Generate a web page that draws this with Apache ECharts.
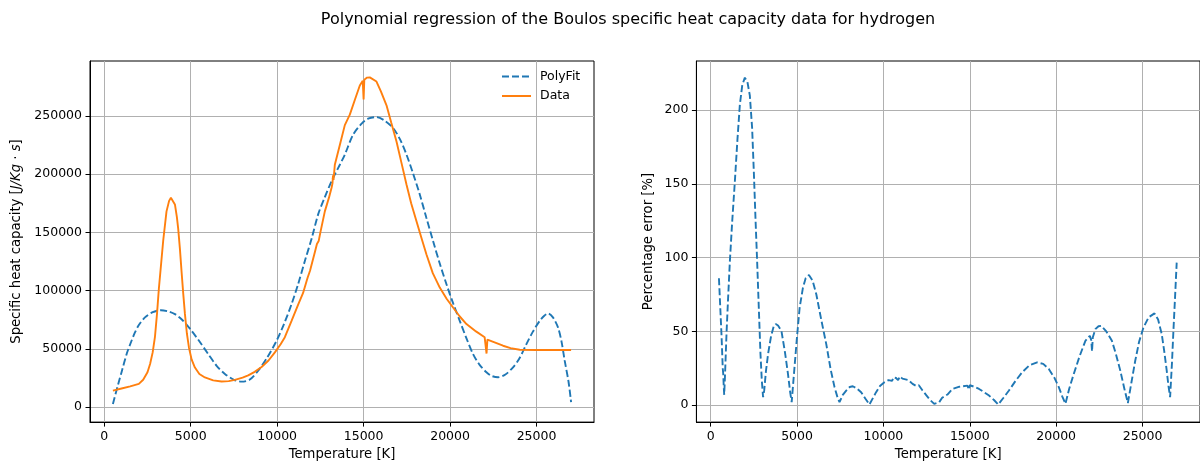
<!DOCTYPE html>
<html>
<head>
<meta charset="utf-8">
<script src="https://cdn.jsdelivr.net/npm/echarts@6/dist/echarts.min.js"></script>
<style>
  html, body { margin: 0; padding: 0; background: #fff; }
  #chart { width: 1200px; height: 466px; }
</style>
</head>
<body>
<div id="chart"></div>
<script>
// ---------- data ----------
const fitT = [500, 809, 1000, 1295, 1500, 1775, 2000, 2353, 2800, 3277, 3700, 4087, 4500, 5052, 5500, 6012, 6500, 6977, 7500, 7942, 8400, 8902, 9400, 9965, 10400, 10832, 11200, 11601, 12000, 12370, 12750, 13144, 13624, 13913, 14393, 14900, 15300, 15746, 16200, 16705, 17100, 17480, 17850, 18249, 18630, 19017, 19400, 19792, 20180, 20561, 20950, 21329, 21700, 22104, 22400, 22775, 23200, 23642, 24000, 24416, 24800, 25185, 25450, 25665, 25950, 26243, 26450, 26630, 26850, 27000];
const fitCp = [2800, 19900, 30000, 45600, 54000, 64100, 70500, 77000, 81500, 83200, 82200, 79800, 75000, 65500, 56500, 45600, 35500, 28500, 23500, 21900, 23500, 31300, 42000, 57000, 71500, 88400, 105000, 125400, 145000, 165400, 180000, 193800, 208000, 216700, 233800, 243500, 247800, 248900, 246000, 239500, 230000, 216700, 201000, 182500, 162500, 142500, 123500, 105500, 89000, 74100, 59000, 45600, 36500, 29900, 26800, 25700, 28000, 34200, 41500, 54100, 65000, 74100, 78500, 80400, 77000, 68400, 56000, 39900, 22000, 4300];

const dataT = [500, 1000, 1500, 2000, 2250, 2500, 2650, 2800, 2930, 3050, 3160, 3300, 3410, 3600, 3750, 3855, 3950, 4087, 4200, 4277, 4380, 4472, 4570, 4665, 4780, 4900, 5050, 5243, 5500, 5821, 6300, 6786, 7200, 7555, 8000, 8324, 8700, 9098, 9500, 9867, 10200, 10445, 10832, 11214, 11500, 11699, 11760, 11900, 12179, 12300, 12400, 12500, 12757, 13000, 13143, 13200, 13230, 13260, 13335, 13624, 13913, 14202, 14500, 14780, 14950, 15000, 15040, 15200, 15358, 15744, 16000, 16324, 16600, 16902, 17200, 17480, 17750, 18058, 18350, 18636, 19000, 19405, 19800, 20173, 20550, 20949, 21500, 22000, 22080, 22110, 22160, 22500, 23064, 23500, 24029, 25000, 26000, 27000];
const dataCp = [14200, 16000, 17800, 20000, 23500, 30000, 37000, 47000, 60000, 80000, 102000, 125000, 143000, 168000, 177000, 179600, 179000, 174000, 163000, 153000, 135000, 116000, 97000, 80000, 63000, 51000, 41000, 34000, 28500, 25500, 23000, 22000, 22300, 23400, 25300, 27200, 30300, 34500, 40000, 47000, 54000, 60000, 74000, 88000, 98000, 108000, 111000, 117000, 133000, 140000, 142500, 150000, 168000, 180000, 188000, 192000, 199000, 195000, 208000, 225000, 242000, 251000, 264000, 276000, 280000, 264000, 281000, 282800, 283000, 279400, 271000, 259000, 244000, 228000, 209000, 191000, 175000, 159600, 145000, 131000, 115000, 102600, 93000, 85500, 78000, 71300, 65000, 60000, 59000, 46000, 58000, 56000, 52700, 50700, 49300, 49000, 49000, 49000];

const errT = [480, 634, 700, 730, 760, 785, 830, 923, 1000, 1113, 1250, 1402, 1550, 1690, 1830, 1979, 2130, 2267, 2400, 2498, 2600, 2690, 2790, 2884, 2960, 3034, 3100, 3200, 3323, 3500, 3650, 3767, 3900, 4096, 4300, 4477, 4600, 4690, 4800, 4996, 5150, 5342, 5500, 5688, 5900, 6115, 6400, 6692, 6950, 7171, 7350, 7459, 7650, 7846, 8050, 8227, 8450, 8711, 8950, 9190, 9400, 9577, 9800, 10055, 10300, 10500, 10600, 10730, 10850, 10950, 11100, 11209, 11450, 11688, 11900, 12050, 12265, 12500, 12700, 12940, 13229, 13400, 13707, 13996, 14400, 14861, 14950, 15000, 15300, 15536, 15800, 16113, 16400, 16649, 16950, 17267, 17650, 18034, 18450, 18899, 19250, 19574, 19900, 20151, 20350, 20537, 20750, 21016, 21350, 21691, 21950, 22030, 22076, 22120, 22268, 22450, 22614, 22900, 23226, 23450, 23711, 23950, 24149, 24350, 24576, 24800, 25055, 25350, 25690, 25900, 26110, 26250, 26399, 26500, 26595, 26700, 26786, 26880, 26976];
const errPct = [86, 46, 25, 21, 12, 7, 20, 50, 70, 97.7, 125, 151.8, 180, 203.6, 217, 222, 219, 210, 188, 158.5, 125, 97.7, 65, 34.7, 17, 5.4, 10, 23, 34.7, 47, 53.5, 55, 54, 50.4, 36, 21.1, 9, 2, 18, 46, 66, 79.7, 86, 88.2, 84.5, 75.2, 58, 41.4, 24, 12.2, 5, 2, 7, 9.9, 12.3, 12.8, 11.5, 8.8, 4.5, 0.4, 5, 8.8, 13, 15.5, 17, 16.5, 19, 18.4, 17, 19.5, 18, 19.3, 17, 14.4, 13, 13.5, 9.9, 6.5, 3.5, 0.9, 2, 5, 7.2, 11, 12.5, 13.2, 10.5, 13.5, 12.3, 11, 9, 6.5, 3.5, 0.4, 5, 9.9, 16.5, 22.3, 27, 29, 28, 24.5, 18.5, 12.2, 6, 0.9, 11, 21.1, 33, 43.6, 47, 44, 36.5, 46, 51.5, 53.5, 53.8, 50, 43.6, 35, 23.4, 11, 1.4, 15, 30.1, 43, 52.7, 59.5, 62.2, 58, 48.2, 37, 23.4, 13, 5.4, 28, 50.4, 73, 96.6];

const tempTicks = [0, 5000, 10000, 15000, 20000, 25000];
const cpTicks = [0, 50000, 100000, 150000, 200000, 250000];
const errTicks = [0, 50, 100, 150, 200];

const titleText = 'Polynomial regression of the Boulos specific heat capacity data for hydrogen';
// --------------------------------------------------

const FONT = 'DejaVu Sans';
const TICK_FS = 12.5;
const LABEL_FS = 13.2;
const zip = (a, b) => a.map((v, i) => [v, b[i]]);
const plain = v => String(v);

function xAxisCfg(gridIndex) {
  return {
    type: 'value', gridIndex: gridIndex, min: -825, max: 28325,
    name: 'Temperature [K]', nameLocation: 'middle', nameGap: 25,
    nameTextStyle: { fontFamily: FONT, fontSize: LABEL_FS, color: '#000' },
    axisLine: { show: true, onZero: false, lineStyle: { color: '#000', width: 1 } },
    axisTick: { show: true, inside: false, length: 4.5, customValues: tempTicks, lineStyle: { color: '#000', width: 1 } },
    axisLabel: { show: true, customValues: tempTicks, formatter: plain, margin: 8, fontFamily: FONT, fontSize: TICK_FS, color: '#000' },
    splitLine: { show: true, lineStyle: { color: '#b0b0b0', width: 1 } }
  };
}
function yAxisCfg(gridIndex, min, max, ticks, name, gap, rich) {
  return {
    type: 'value', gridIndex: gridIndex, min: min, max: max,
    name: name, nameLocation: 'middle', nameGap: gap,
    nameTextStyle: { fontFamily: FONT, fontSize: LABEL_FS, color: '#000', rich: rich },
    axisLine: { show: true, onZero: false, lineStyle: { color: '#000', width: 1 } },
    axisTick: { show: true, inside: false, length: 4.5, customValues: ticks, lineStyle: { color: '#000', width: 1 } },
    axisLabel: { show: true, customValues: ticks, formatter: plain, margin: 8, fontFamily: FONT, fontSize: TICK_FS, color: '#000' },
    splitLine: { show: true, lineStyle: { color: '#b0b0b0', width: 1 } }
  };
}

const chart = echarts.init(document.getElementById('chart'), null, { renderer: 'canvas' });
chart.setOption({
  animation: false,
  backgroundColor: '#fff',
  title: {
    text: titleText, left: 628, top: 12, textAlign: 'center', padding: 0,
    textStyle: { fontFamily: FONT, fontSize: 16, fontWeight: 'normal', color: '#000' }
  },
  legend: {
    data: ['PolyFit', 'Data'], orient: 'vertical', left: 501, top: 70, padding: 0,
    itemWidth: 29, itemHeight: 14, itemGap: 6.5,
    itemStyle: { opacity: 0 },
    textStyle: { fontFamily: FONT, fontSize: TICK_FS, color: '#000', padding: [0, 0, 0, 4] }
  },
  grid: [
    { left: 90, top: 61, width: 504, height: 362.3, show: true, borderColor: '#000', borderWidth: 1, containLabel: false },
    { left: 696.4, top: 61, width: 505.3, height: 362.3, show: true, borderColor: '#000', borderWidth: 1, containLabel: false }
  ],
  xAxis: [xAxisCfg(0), xAxisCfg(1)],
  yAxis: [
    yAxisCfg(0, -12830, 297040, cpTicks, 'Specific heat capacity [{i|J/Kg} · {i|s}]', 66.5,
      { i: { fontFamily: FONT, fontSize: LABEL_FS, fontStyle: 'italic', color: '#000' } }),
    yAxisCfg(1, -11.49, 233.3, errTicks, 'Percentage error [%]', 41)
  ],
  series: [
    {
      name: 'PolyFit', type: 'line', xAxisIndex: 0, yAxisIndex: 0,
      data: zip(fitT, fitCp), symbol: 'none', showSymbol: false, smooth: 0.3,
      color: '#1f77b4', lineStyle: { color: '#1f77b4', width: 1.9, type: [7, 3] }
    },
    {
      name: 'Data', type: 'line', xAxisIndex: 0, yAxisIndex: 0,
      data: zip(dataT, dataCp), symbol: 'none', showSymbol: false, smooth: false,
      color: '#ff7f0e', lineStyle: { color: '#ff7f0e', width: 1.9 }
    },
    {
      name: 'Error', type: 'line', xAxisIndex: 1, yAxisIndex: 1,
      data: zip(errT, errPct), symbol: 'none', showSymbol: false, smooth: false,
      color: '#1f77b4', lineStyle: { color: '#1f77b4', width: 1.9, type: [7, 3] }
    }
  ]
});
</script>
</body>
</html>
